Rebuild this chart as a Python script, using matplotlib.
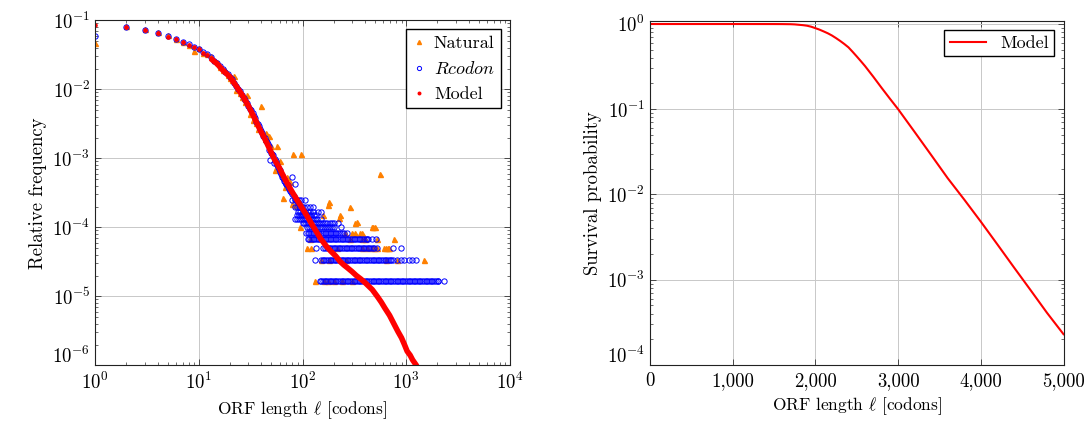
import numpy as np
import matplotlib
matplotlib.use('Agg')
from matplotlib import pyplot as plt
import matplotlib.transforms as mtransforms
from matplotlib.ticker import LogLocator, NullFormatter, FuncFormatter

plt.rcParams['font.family'] = 'serif'
plt.rcParams['font.serif'] = ['cmr10']
plt.rcParams['mathtext.fontset'] = 'cm'
plt.rcParams['axes.formatter.use_mathtext'] = True
plt.rcParams['font.size'] = 13

#=========== counts -> relative frequency levels ===========
N_ORF = 60000.0

#=========== MODEL (left) ===========
model_dot_len = [1, 2, 3, 4, 5, 6, 7, 8, 9, 10, 11, 12, 13]
model_dot_freq = [0.085, 0.079, 0.072, 0.065, 0.058, 0.053, 0.048, 0.044, 0.041, 0.038, 0.034, 0.031, 0.028]
model_len = [13, 15, 17, 20, 24, 27, 30, 34, 38, 45, 53, 60, 68, 80, 90, 100, 113, 127, 150, 170, 185, 210,
             230, 250, 270, 300, 330, 365, 400, 470, 530, 575, 620, 690, 760, 830, 900, 960, 1020, 1090,
             1150, 1250, 1350]
model_freq = [0.028, 0.0235, 0.019, 0.0151, 0.0101, 0.0077, 0.0058, 0.0040, 0.0028, 0.0017, 0.00100,
              0.00072, 0.00049, 0.00032, 0.00024, 0.000186, 0.000138, 0.000102, 0.000068, 0.000053,
              0.000046, 0.000038, 0.000032, 0.0000285, 0.000026, 0.0000228, 0.000020, 0.0000178,
              0.0000158, 0.0000125, 0.0000098, 0.0000082, 0.0000068, 0.0000053, 0.0000040, 0.0000031,
              0.0000025, 0.0000020, 0.0000016, 0.0000014, 0.0000012, 0.0000010, 0.00000078]

#=========== RCODON ===========
rcodon_len = [1, 2, 3, 4, 5, 6, 7, 8, 9, 10, 11, 12, 13, 14, 15, 16, 17, 18, 19, 20, 21, 22, 23, 24, 25,
              26, 27, 28, 29, 30, 31, 32, 33, 34, 35, 36, 37, 38, 39, 40, 41, 42, 43, 44, 45, 46, 47, 48,
              49, 50, 51, 52, 53, 54, 55, 56, 57, 58, 59, 60, 61, 62, 63, 64, 65, 66, 67, 68, 69, 70, 72,
              73, 74, 75, 77, 79, 80, 82, 84, 85, 87, 90, 92, 95]
rcodon_freq = [0.060, 0.080, 0.073, 0.066, 0.059, 0.053, 0.049, 0.045, 0.041, 0.038, 0.035, 0.032, 0.029,
               0.026, 0.024, 0.022, 0.020, 0.018, 0.0165, 0.0152, 0.014, 0.0125, 0.0113, 0.0102, 0.0093,
               0.0084, 0.0076, 0.0069, 0.0063, 0.0058, 0.0052, 0.0050, 0.0046, 0.0041, 0.0038, 0.0034,
               0.0031, 0.0029, 0.0027, 0.0025, 0.0023, 0.0021, 0.0020, 0.0018, 0.0017, 0.0016, 0.0015,
               0.0013, 0.00095, 0.0012, 0.00115, 0.0011, 0.00085, 0.00098, 0.00092, 0.00086, 0.0008,
               0.00075, 0.00071, 0.00068, 0.00064, 0.0006, 0.00058, 0.00054, 0.00052, 0.0005, 0.00047,
               0.00045, 0.00043, 0.00042, 0.00038, 0.00041, 0.00036, 0.00034, 0.00032, 0.00053, 0.0003,
               0.00028, 0.00026, 0.00043, 0.00025, 0.00023, 0.00022, 0.0002]

# ORF lengths seen with k occurrences (frequency k / N_ORF)
rcodon_k1 = [146, 151, 157, 163, 169, 175, 182, 189, 196, 204, 212, 220, 229, 238, 247, 257, 267, 277, 288,
             299, 311, 323, 336, 349, 362, 376, 391, 406, 422, 438, 455, 473, 491, 510, 530, 551, 572, 594,
             617, 641, 666, 692, 719, 747, 776, 806, 837, 869, 903, 938, 974, 1012, 1051, 1092, 1134, 1178,
             1224, 1271, 1320, 1371, 1424, 1479, 1536, 1596, 1658, 1722, 1789, 1858, 1930, 2005, 2040, 2290]
rcodon_k2 = [132, 150, 156, 162, 168, 175, 182, 189, 196, 204, 212, 220, 229, 238, 247, 257, 267, 277, 288,
             299, 311, 323, 336, 349, 362, 376, 391, 406, 422, 438, 455, 473, 491, 510, 530, 551, 572, 594,
             617, 641, 666, 692, 719, 753, 811, 893, 955, 1067, 1140, 1245]
rcodon_k3 = [135, 159, 165, 171, 178, 185, 192, 199, 207, 215, 223, 232, 241, 250, 260, 270, 280, 291, 302,
             314, 326, 339, 352, 365, 379, 394, 409, 425, 441, 458, 476, 494, 520, 740, 890]
rcodon_k4 = [112, 116, 120, 125, 130, 135, 140, 145, 151, 157, 163, 169, 175, 182, 189, 196, 204, 212, 220,
             229, 238, 247, 257, 267, 277, 288, 299, 311, 323, 336, 349, 362, 376, 391, 406, 422, 430, 465, 510]
rcodon_k5 = [108, 112, 116, 120, 125, 130, 135, 140, 145, 151, 157, 163, 169, 175, 182, 189, 196, 204, 212,
             220, 229, 238, 252, 267]
rcodon_k6 = [110, 115, 121, 127, 133, 139, 146, 153, 160, 168, 176, 184, 193, 200, 235]
rcodon_k7 = [100, 104, 109, 114, 119, 125, 131, 137, 144, 151, 158, 166, 174, 182, 191, 200, 220]
rcodon_k8 = [85, 88, 92, 96, 100, 105, 110, 115, 120, 126, 132, 138, 150]
rcodon_k9 = [88, 92, 96, 101, 106, 111, 116, 122, 128, 135]
rcodon_k10 = [90, 95, 100, 106, 112, 118, 125, 140, 150]
rcodon_k12 = [84, 88, 93, 98, 104, 110, 118, 125]
rcodon_k15 = [80, 84, 88, 92, 97, 105]

#=========== NATURAL ===========
natural_len = [1, 2, 3, 4, 5, 6, 7, 8, 9, 10, 11, 12, 13, 14, 15, 16, 17, 18, 19, 20, 21, 22, 23, 24, 25,
               26, 27, 28, 29, 31, 33, 36, 37, 40, 41, 43, 44, 47, 50, 54, 57, 60, 65, 68, 71, 75, 79, 81,
               85, 95, 97, 159, 177, 181, 227, 230, 288, 320, 334, 465, 478, 500, 560]
natural_freq = [0.047, 0.082, 0.075, 0.067, 0.062, 0.054, 0.049, 0.044, 0.036, 0.040, 0.034, 0.032, 0.030,
                0.027, 0.025, 0.021, 0.019, 0.019, 0.016, 0.0148, 0.0135, 0.0155, 0.0097, 0.0105, 0.0088,
                0.0078, 0.0074, 0.0066, 0.0082, 0.0044, 0.0036, 0.0032, 0.0027, 0.0058, 0.0024, 0.0019,
                0.0023, 0.0021, 0.0015, 0.00067, 0.0015, 0.0009, 0.00027, 0.00038, 0.00053, 0.00045,
                0.00022, 0.00117, 0.00021, 0.000102, 0.00117, 0.00015, 0.00021, 0.000236, 0.000136,
                0.00015, 0.0002, 0.000117, 0.00012, 0.0001, 0.0001, 0.0001, 0.0006]
natural_k1 = [133, 160, 175, 200, 240, 300]
natural_k2 = [150, 180, 260, 640, 820, 1490]
natural_k3 = [110, 120, 213, 372, 417, 466, 485, 520, 615, 640, 665, 680]
natural_k4 = [118, 290, 372, 400, 520, 755]
natural_k5 = [258, 299, 320, 360, 372]

#=========== SURVIVAL (right) ===========
surv_len = [0, 500, 1000, 1500, 1600, 1700, 1750, 1800, 1850, 1900, 1950, 2000, 2050, 2100, 2150, 2200,
            2250, 2300, 2350, 2400, 2450, 2500, 2550, 2600, 2700, 2800, 2900, 3000, 3200, 3400, 3600, 3800,
            4000, 4200, 4400, 4600, 4800, 5000]
surv_prob = [0.995, 0.995, 0.995, 0.994, 0.993, 0.99, 0.985, 0.975, 0.965, 0.95, 0.925, 0.89, 0.855,
             0.815, 0.775, 0.73, 0.68, 0.63, 0.58, 0.53, 0.47, 0.415, 0.365, 0.32, 0.24, 0.178, 0.133,
             0.10, 0.054, 0.029, 0.0155, 0.0087, 0.0048, 0.0026, 0.0014, 0.00076, 0.00041, 0.00023]

ORANGE = (1.0, 0.5, 0.0)

fig = plt.figure(figsize=(10.9, 4.24), dpi=100)
ax1 = fig.add_axes([0.0872, 0.1384, 0.3807, 0.8137])
ax2 = fig.add_axes([0.5963, 0.139, 0.3794, 0.8115])

# natural
nat_x = list(natural_len)
nat_y = list(natural_freq)
for k, lens in [(1, natural_k1), (2, natural_k2), (3, natural_k3), (4, natural_k4), (5, natural_k5)]:
    nat_x += lens
    nat_y += [k / N_ORF] * len(lens)
ax1.plot(nat_x, nat_y, linestyle='none', marker='^', ms=3.6, color=ORANGE, mec=ORANGE, label='Natural')

# rcodon
rc_x = list(rcodon_len)
rc_y = list(rcodon_freq)
for k, lens in [(1, rcodon_k1), (2, rcodon_k2), (3, rcodon_k3), (4, rcodon_k4), (5, rcodon_k5),
                (6, rcodon_k6), (7, rcodon_k7), (8, rcodon_k8), (9, rcodon_k9), (10, rcodon_k10),
                (12, rcodon_k12), (15, rcodon_k15)]:
    rc_x += lens
    rc_y += [k / N_ORF] * len(lens)
ax1.plot(rc_x, rc_y, linestyle='none', marker='o', ms=3.8, mfc='none', mec='blue', mew=0.7,
         label='$Rcodon$')

# model
ax1.plot(model_len, model_freq, color='red', lw=4.0, solid_capstyle='butt', solid_joinstyle='round')
ax1.plot(model_dot_len, model_dot_freq, linestyle='none', marker='o', ms=2.3, color='red', label='Model')

ax1.set_xscale('log')
ax1.set_yscale('log')
ax1.set_xlim(1, 1e4)
ax1.set_ylim(1e-6, 1e-1)
ax1.set_xlabel(r'ORF length $\ell$ [codons]', labelpad=4, fontsize=12.5)
ax1.set_ylabel('Relative frequency', labelpad=4, fontsize=13.5)
ax1.legend(loc='upper right', fancybox=False, edgecolor='black', framealpha=1, borderaxespad=0.5,
           handlelength=0.7, handletextpad=0.5, borderpad=0.35, labelspacing=0.5, markerscale=0.8)

# right
ax2.plot(surv_len, surv_prob, color='red', lw=1.5, label='Model')
ax2.set_yscale('log')
ax2.set_xlim(0, 5000)
ax2.set_ylim(1e-4, 1.08)
ax2.set_xticks([0, 1000, 2000, 3000, 4000, 5000])
ax2.xaxis.set_major_formatter(FuncFormatter(lambda v, p: '{:,}'.format(int(v))))
ax2.set_xlabel(r'ORF length $\ell$ [codons]', labelpad=4, fontsize=12.5)
ax2.set_ylabel('Survival probability', labelpad=4, fontsize=13.5)
ax2.legend(loc='upper right', fancybox=False, edgecolor='black', framealpha=1, borderaxespad=0.5,
           handlelength=2.0, borderpad=0.3)

for ax in (ax1, ax2):
    ax.grid(True, which='major', color='#c8c8c8', lw=0.7)
    ax.set_axisbelow(True)
    ax.tick_params(which='both', direction='in', top=True, right=True, colors='#333333',
                   labelcolor='black', labelsize=13.5)
    ax.tick_params(which='major', length=4, width=0.6)
    ax.tick_params(which='minor', length=2.2, width=0.5)
    ax.tick_params(axis='x', which='major', pad=5)
    for s in ax.spines.values():
        s.set_color('#222222')
        s.set_linewidth(0.8)
ax1.yaxis.set_minor_locator(LogLocator(base=10, subs=np.arange(2, 10), numticks=20))
ax1.xaxis.set_minor_locator(LogLocator(base=10, subs=np.arange(2, 10), numticks=20))
ax1.yaxis.set_minor_formatter(NullFormatter())
ax1.xaxis.set_minor_formatter(NullFormatter())
ax1.yaxis.set_major_locator(LogLocator(base=10, numticks=20))
ax2.yaxis.set_major_locator(LogLocator(base=10, numticks=20))
ax2.yaxis.set_minor_locator(LogLocator(base=10, subs=np.arange(2, 10), numticks=20))
ax2.yaxis.set_minor_formatter(NullFormatter())

# lift the lowest y tick label a bit, as in the original, so it clears the x labels
fig.canvas.draw()
for ax, low in ((ax1, 1e-6), (ax2, 1e-4)):
    for t in ax.yaxis.get_major_ticks():
        if np.isclose(t.get_loc(), low):
            t.label1.set_transform(t.label1.get_transform() +
                                   mtransforms.ScaledTranslation(0, 8 / 72, fig.dpi_scale_trans))

fig.savefig('out.png', dpi=100)
